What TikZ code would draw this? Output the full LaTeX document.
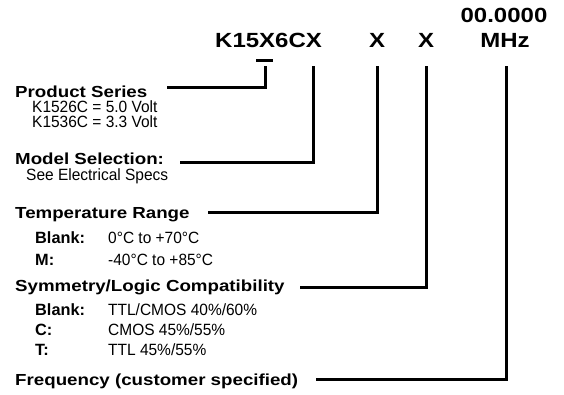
\documentclass[tikz,border=0pt]{standalone}
\usepackage{fontspec}
\setmainfont{Liberation Sans}[FakeStretch=0.95]
\newfontfamily\hdfont{Liberation Sans}[FakeStretch=1.17]
\newfontfamily\kbfont{Liberation Sans}[FakeStretch=1.0]
\begin{document}
\begin{tikzpicture}[x=1pt,y=-1pt,
  hd/.style={anchor=base west, inner sep=0pt, font=\fontsize{16}{19}\hdfont\bfseries},
  tx/.style={anchor=base west, inner sep=0pt, font=\fontsize{16.3}{19}\selectfont},
  kb/.style={anchor=base west, inner sep=0pt, font=\fontsize{16.3}{19}\kbfont\bfseries},
  ttl/.style={anchor=base, inner sep=0pt, font=\fontsize{20.5}{24}\hdfont\bfseries},
  conn/.style={line width=3pt, line join=miter}]
\path[use as bounding box] (0,0) rectangle (564,394);
% title
\node[ttl, anchor=base west] (code) at (215,47) {K15X6CX};
\node[ttl] (xa) at (377,47) {X};
\node[ttl] (xb) at (426,47) {X};
\node[ttl] (mhz) at (505,47) {MHz};
\node[ttl] (frq) at (504,22) {00.0000};
\coordinate (u1) at (256,60); \coordinate (u2) at (273,60);
\draw[line width=3pt] (u1) -- (u2);
% left labels
\node[hd] (ps) at (15,97) {Product Series};
\node[tx] (ps1) at (32,112) {K1526C = 5.0 Volt};
\node[tx] (ps2) at (32,127) {K1536C = 3.3 Volt};
\node[hd] (ms) at (15,164) {Model Selection:};
\node[tx] (ms1) at (26,180) {See Electrical Specs};
\node[hd] (tr) at (15,218) {Temperature Range};
\node[kb] (tr1) at (35,243) {Blank:};
\node[tx] (tr1v) at (108,243) {0°C to +70°C};
\node[kb] (tr2) at (35,265) {M:};
\node[tx] (tr2v) at (108,265) {-40°C to +85°C};
\node[hd] (sy) at (15,291) {Symmetry/Logic Compatibility};
\node[kb] (sy1) at (35,315) {Blank:};
\node[tx] (sy1v) at (108,315) {TTL/CMOS 40\%/60\%};
\node[kb] (sy2) at (35,335) {C:};
\node[tx] (sy2v) at (108,335) {CMOS 45\%/55\%};
\node[kb] (sy3) at (35,355) {T:};
\node[tx] (sy3v) at (108,355) {TTL 45\%/55\%};
\node[hd] (fq) at (15,385) {Frequency (customer specified)};
% connectors
\coordinate (t1) at (265,66); \coordinate (e1) at (167,87);
\coordinate (t2) at (313,66); \coordinate (e2) at (180,162);
\coordinate (t3) at (377,66); \coordinate (e3) at (208,212);
\coordinate (t4) at (426,66); \coordinate (e4) at (300,287);
\coordinate (t5) at (506,66); \coordinate (e5) at (316,379);
\draw[conn] (t1) |- (e1);
\draw[conn] (t2) |- (e2);
\draw[conn] (t3) |- (e3);
\draw[conn] (t4) |- (e4);
\draw[conn] (t5) |- (e5);
\end{tikzpicture}
\end{document}
